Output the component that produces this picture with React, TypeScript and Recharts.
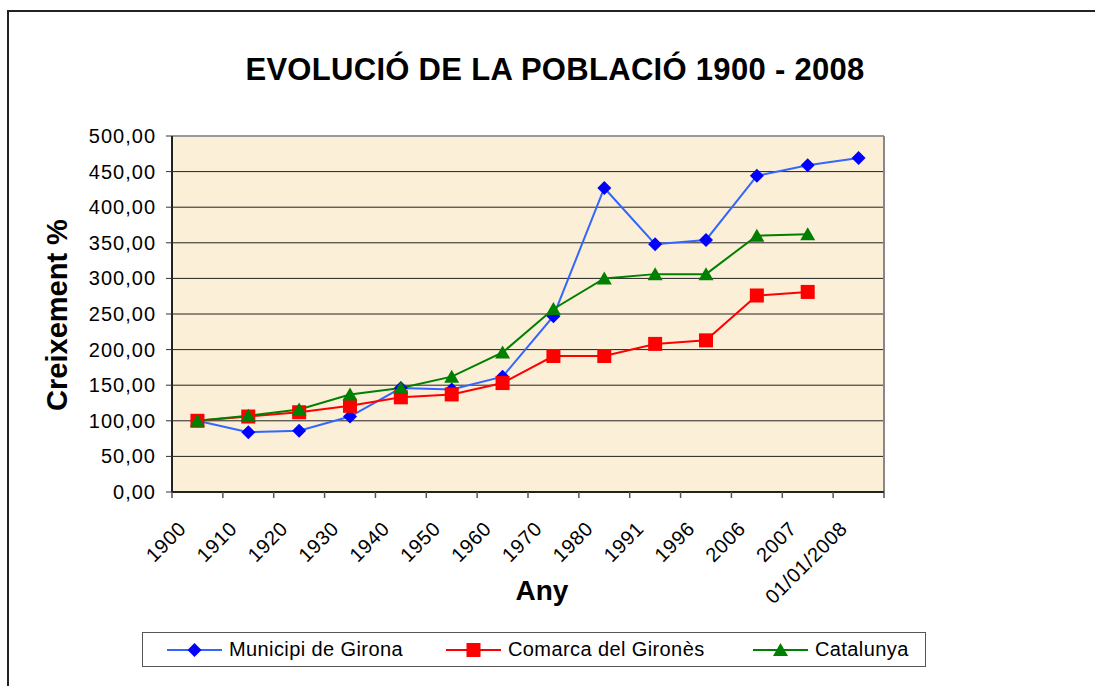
import React from "react";
import { LineChart, Line, XAxis, YAxis, CartesianGrid, ReferenceLine } from "recharts";

const years = ["1900", "1910", "1920", "1930", "1940", "1950", "1960", "1970", "1980", "1991", "1996", "2006", "2007", "01/01/2008"];
const girona = [100, 84, 86, 106, 146, 144, 162, 247, 427, 348, 354, 444, 459, 469];
const girones = [100, 106, 112, 121, 133, 137, 153, 191, 191, 208, 213, 276, 281, null];
const catalunya = [100, 107, 116, 137, 146, 162, 196, 257, 300, 306, 306, 360, 362, null];
const yTicks = [0, 50, 100, 150, 200, 250, 300, 350, 400, 450, 500];

const FONT = "'Liberation Sans', Arial, sans-serif";

// category centres sit at i + 0.5, boundaries at whole numbers (Excel style)
const data = years.map((label, i) => ({
  x: i + 0.5,
  label,
  girona: girona[i],
  girones: girones[i],
  catalunya: catalunya[i],
}));
const xTicks: number[] = [];
for (let i = 0; i <= years.length * 2; i++) xTicks.push(i / 2);

function Marker({ shape, cx, cy, fill }: { shape: string; cx: number; cy: number; fill: string }) {
  if (shape === "diamond") {
    const r = 7;
    return <path d={`M${cx},${cy - r}L${cx + r},${cy}L${cx},${cy + r}L${cx - r},${cy}Z`} fill={fill} />;
  }
  if (shape === "square") {
    return <rect x={cx - 7} y={cy - 7} width={14} height={14} fill={fill} />;
  }
  return <path d={`M${cx},${cy - 7}L${cx + 7.5},${cy + 6}L${cx - 7.5},${cy + 6}Z`} fill={fill} />;
}

const dotRenderer = (shape: string, fill: string) => (p: any) => {
  if (p.value == null || p.cy == null || isNaN(p.cy)) return <g key={`${shape}-${p.index}`} />;
  return <Marker key={`${shape}-${p.index}`} shape={shape} cx={p.cx} cy={p.cy} fill={fill} />;
};

const XTick = (props: any) => {
  const { x, y, payload } = props;
  const v = payload.value as number;
  if (Number.isInteger(v)) {
    return <line x1={x} y1={y} x2={x} y2={y + 6} stroke="#555" strokeWidth={1.5} />;
  }
  const label = years[Math.floor(v)];
  const tx = x - 10;
  const ty = y + 38;
  return (
    <text x={tx} y={ty} transform={`rotate(-45 ${tx} ${ty})`} textAnchor="end" fontSize={20} letterSpacing={0.6} fontFamily={FONT} fill="#000">
      {label}
    </text>
  );
};

const YTick = (props: any) => {
  const { x, y, payload } = props;
  return (
    <text x={x} y={y} dy={7} textAnchor="end" fontSize={20} letterSpacing={1} fontFamily={FONT} fill="#000">
      {(payload.value as number).toFixed(2).replace(".", ",")}
    </text>
  );
};

const legendItems = [
  { name: "Municipi de Girona", line: "#3366FF", fill: "#0000FF", shape: "diamond", left: 24 },
  { name: "Comarca del Gironès", line: "#FF0000", fill: "#FF0000", shape: "square", left: 303 },
  { name: "Catalunya", line: "#008000", fill: "#008000", shape: "triangle", left: 610 },
];

export default function App() {
  return (
    <div style={{ position: "absolute", left: 0, top: 0, width: 1095, height: 686, background: "#fff", fontFamily: FONT }}>
      <div style={{ position: "absolute", left: 7, top: 10, width: 1088, height: 676, borderLeft: "2px solid #222", borderTop: "2px solid #222", boxSizing: "border-box" }} />
      <div style={{ position: "absolute", left: 0, top: 0 }}>
        <LineChart width={1095} height={686} data={data} margin={{ top: 136, right: 211, bottom: 94, left: 0 }}>
          <CartesianGrid horizontal vertical={false} stroke="#222" strokeWidth={1} fill="#FCEFD7" fillOpacity={1} />
          <XAxis
            dataKey="x"
            type="number"
            domain={[0, years.length]}
            ticks={xTicks}
            interval={0}
            height={100}
            tickSize={0}
            tickMargin={0}
            tickLine={false}
            axisLine={{ stroke: "#222", strokeWidth: 2 }}
            tick={<XTick />}
          />
          <YAxis
            type="number"
            domain={[0, 500]}
            ticks={yTicks}
            interval={0}
            width={172}
            tickSize={6}
            tickMargin={10}
            tickLine={{ stroke: "#333" }}
            axisLine={{ stroke: "#222", strokeWidth: 2 }}
            tick={<YTick />}
          />
          <ReferenceLine y={500} stroke="#999" strokeWidth={2} />
          <ReferenceLine x={years.length} stroke="#888" strokeWidth={2} />
          <Line dataKey="girona" stroke="#3366FF" strokeWidth={2} isAnimationActive={false} dot={dotRenderer("diamond", "#0000FF")} activeDot={false} />
          <Line dataKey="girones" stroke="#FF0000" strokeWidth={2} isAnimationActive={false} dot={dotRenderer("square", "#FF0000")} activeDot={false} />
          <Line dataKey="catalunya" stroke="#008000" strokeWidth={2} isAnimationActive={false} dot={dotRenderer("triangle", "#008000")} activeDot={false} />
        </LineChart>
      </div>
      <svg width={1095} height={686} style={{ position: "absolute", left: 0, top: 0, pointerEvents: "none" }}>
        <text x={555} y={80} textAnchor="middle" fontSize={31} letterSpacing={0.3} fontWeight="bold" fontFamily={FONT} fill="#000">
          EVOLUCIÓ DE LA POBLACIÓ 1900 - 2008
        </text>
        <text x={67} y={315} transform="rotate(-90 67 315)" textAnchor="middle" fontSize={29} fontWeight="bold" fontFamily={FONT} fill="#000">
          Creixement %
        </text>
        <text x={542} y={600} textAnchor="middle" fontSize={28} fontWeight="bold" fontFamily={FONT} fill="#000">
          Any
        </text>
      </svg>
      <div style={{ position: "absolute", left: 142, top: 632, width: 784, height: 35, border: "1px solid #555", boxSizing: "border-box", background: "#fff" }}>
        {legendItems.map((it) => (
          <div key={it.name} style={{ position: "absolute", left: it.left, top: 0, height: 33, display: "flex", alignItems: "center" }}>
            <svg width={56} height={20}>
              <line x1={0} y1={10} x2={55} y2={10} stroke={it.line} strokeWidth={2} />
              <Marker shape={it.shape} cx={27.5} cy={10} fill={it.fill} />
            </svg>
            <span style={{ marginLeft: 6, fontSize: 20, letterSpacing: 0.4, color: "#000", whiteSpace: "nowrap" }}>{it.name}</span>
          </div>
        ))}
      </div>
    </div>
  );
}
